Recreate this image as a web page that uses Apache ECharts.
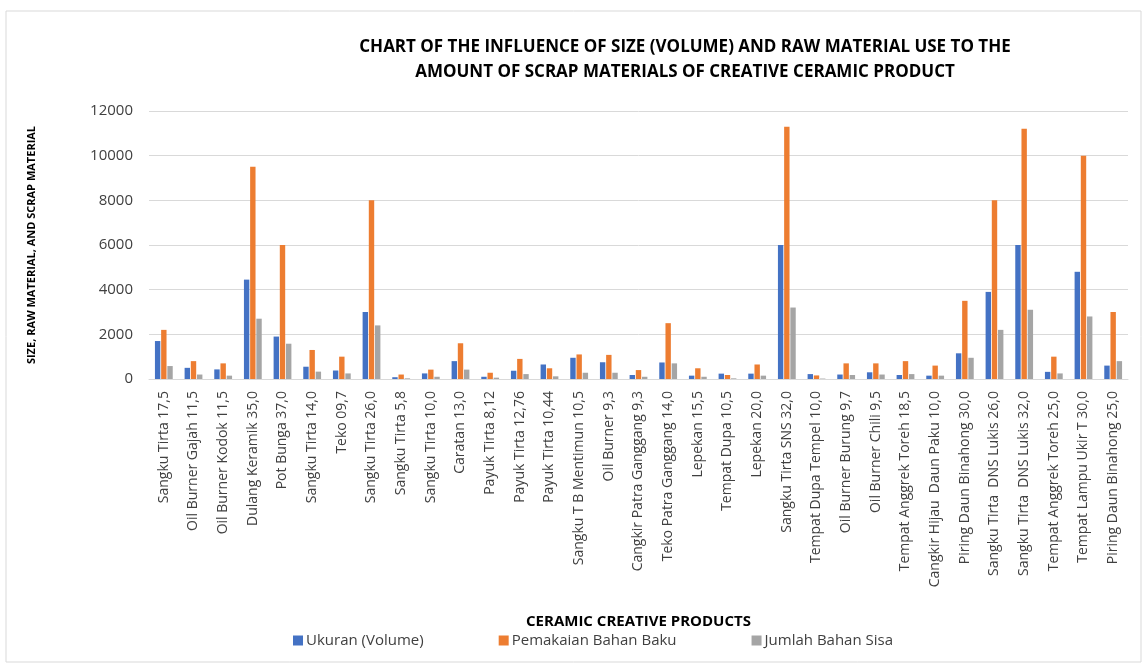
<!DOCTYPE html>
<html lang="en">
<head>
  <meta charset="UTF-8">
  <title>Ceramic creative products</title>
  <script src="https://cdn.jsdelivr.net/npm/echarts@6/dist/echarts.min.js"></script>
</head>
<style>
  body { margin: 0; background: #fff; }
</style>
<body>
<div id="main" style="width: 1146px;height:669px;"></div>
<script>
  // categories (x axis)
  var products = [
    'Sangku Tirta 17,5', 'Oil Burner Gajah 11,5', 'Oil Burner Kodok 11,5', 'Dulang Keramik 35,0',
    'Pot Bunga 37,0', 'Sangku Tirta 14,0', 'Teko 09,7', 'Sangku Tirta 26,0', 'Sangku Tirta 5,8',
    'Sangku Tirta 10,0', 'Caratan 13,0', 'Payuk Tirta 8,12', 'Payuk Tirta 12,76', 'Payuk Tirta 10,44',
    'Sangku T B Mentimun 10,5', 'Oil Burner 9,3', 'Cangkir Patra Ganggang 9,3', 'Teko Patra Ganggang 14,0',
    'Lepekan 15,5', 'Tempat Dupa 10,5', 'Lepekan 20,0', 'Sangku Tirta SNS 32,0', 'Tempat Dupa Tempel 10,0',
    'Oil Burner Burung 9,7', 'Oil Burner Chili 9,5', 'Tempat Anggrek Toreh 18,5', 'Cangkir Hijau  Daun Paku 10,0',
    'Piring Daun Binahong 30,0', 'Sangku Tirta  DNS Lukis 26,0', 'Sangku Tirta  DNS Lukis 32,0',
    'Tempat Anggrek Toreh 25,0', 'Tempat Lampu Ukir T 30,0', 'Piring Daun Binahong 25,0'
  ];
  // series values
  var ukuran = [1700, 500, 430, 4450, 1900, 550, 380, 3000, 80, 250, 800, 100, 370, 650, 950, 750, 180, 740,
    150, 240, 240, 6000, 220, 200, 300, 180, 150, 1150, 3900, 6000, 320, 4800, 600];
  var pemakaian = [2200, 800, 700, 9500, 6000, 1300, 1000, 8000, 200, 420, 1600, 280, 900, 480, 1100, 1080, 400, 2500,
    480, 180, 650, 11300, 160, 700, 700, 800, 600, 3500, 8000, 11200, 1000, 10000, 3000];
  var sisa = [580, 200, 150, 2700, 1580, 330, 250, 2400, 30, 100, 420, 60, 220, 120, 280, 280, 100, 700,
    100, 30, 150, 3200, 20, 180, 200, 220, 150, 950, 2200, 3100, 250, 2800, 800];

  var seriesNames = ['Ukuran (Volume)', 'Pemakaian Bahan Baku', 'Jumlah Bahan Sisa'];
  var txt = '#404040';
  var font = 'Open Sans';

  var myChart = echarts.init(document.getElementById('main'));
  myChart.setOption({
    animation: false,
    textStyle: { fontFamily: font },
    color: ['#4472C4', '#ED7D31', '#A5A5A5'],
    graphic: [{
      type: 'rect',
      shape: { x: 6, y: 11, width: 1135, height: 651 },
      style: { fill: 'none', stroke: '#d9d9d9', lineWidth: 1 }
    }],
    title: {
      text: 'CHART OF THE INFLUENCE OF SIZE (VOLUME) AND RAW MATERIAL USE TO THE\nAMOUNT OF SCRAP MATERIALS OF CREATIVE CERAMIC PRODUCT',
      left: 680,
      top: 30,
      textAlign: 'center',
      textStyle: { fontFamily: font, fontSize: 17, fontWeight: 'bold', color: '#000', lineHeight: 25 }
    },
    legend: {
      data: seriesNames,
      left: 288,
      top: 628,
      itemWidth: 10,
      itemHeight: 10,
      itemGap: 75,
      icon: 'rect',
      textStyle: { fontFamily: font, fontSize: 15, color: txt, padding: [0, 0, 0, -2] }
    },
    grid: { left: 149, right: 18, top: 111, bottom: 290 },
    xAxis: {
      type: 'category',
      data: products,
      name: 'CERAMIC CREATIVE PRODUCTS',
      nameLocation: 'middle',
      nameGap: 235,
      nameTextStyle: { fontFamily: font, fontSize: 15, fontWeight: 'bold', color: '#000' },
      axisLine: { lineStyle: { color: '#d9d9d9', width: 1 } },
      axisTick: { show: false },
      axisLabel: { rotate: 90, interval: 0, fontSize: 14, color: txt, margin: 12 }
    },
    yAxis: {
      type: 'value',
      min: 0,
      max: 12000,
      interval: 2000,
      name: 'SIZE, RAW MATERIAL, AND SCRAP MATERIAL',
      nameLocation: 'middle',
      nameGap: 112,
      nameTextStyle: { fontFamily: font, fontSize: 11, fontWeight: 'bold', color: '#000' },
      axisLine: { show: false },
      axisTick: { show: false },
      axisLabel: { fontSize: 15, color: txt, margin: 16, formatter: function (v) { return String(v); } },
      splitLine: { lineStyle: { color: '#d9d9d9', width: 1 } }
    },
    series: [
      { name: seriesNames[0], type: 'bar', data: ukuran, barGap: '15%', barCategoryGap: '40%' },
      { name: seriesNames[1], type: 'bar', data: pemakaian, barGap: '15%', barCategoryGap: '40%' },
      { name: seriesNames[2], type: 'bar', data: sisa, barGap: '15%', barCategoryGap: '40%' }
    ]
  });
</script>
</body>
</html>
